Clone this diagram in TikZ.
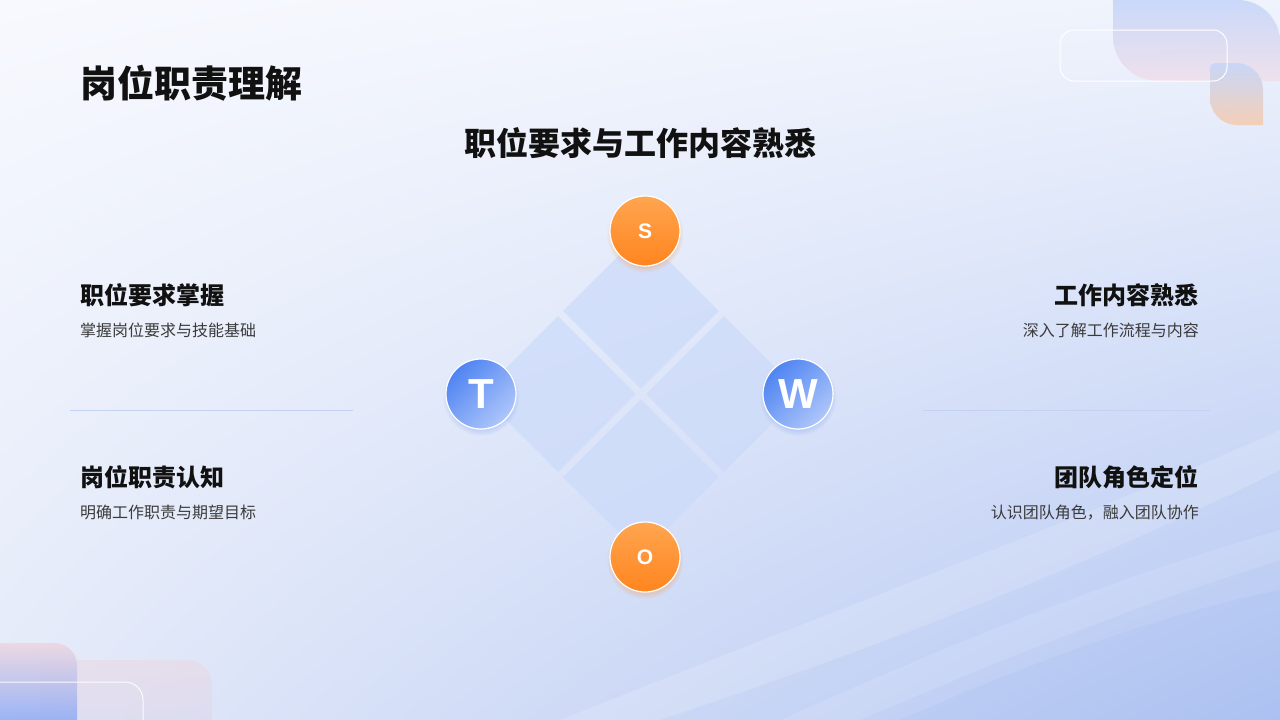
\documentclass[tikz,border=0pt]{standalone}
\usepackage{fontspec}
\setmainfont{Noto Sans CJK SC}
\newfontfamily\letterfont{Liberation Sans}
\usetikzlibrary{positioning,shadows,shadings,calc}
\definecolor{PageTL}{HTML}{F7F9FE}
\definecolor{PageTR}{HTML}{EFF3FC}
\definecolor{PageBL}{HTML}{E4EAF9}
\definecolor{PageBR}{HTML}{B2C5F2}
\definecolor{QuadBlue}{HTML}{CCDBFA}
\definecolor{SepBlue}{HTML}{C3D2F2}
\definecolor{OrangeTop}{HTML}{FFA550}
\definecolor{OrangeBot}{HTML}{FF851F}
\definecolor{BlueDeep}{HTML}{4F84F2}
\definecolor{BlueLight}{HTML}{AEC6FA}
\definecolor{InkDark}{HTML}{111111}
\definecolor{InkGrey}{HTML}{3A3A3A}
\definecolor{LeafBlue}{HTML}{C6D6FA}
\definecolor{LeafPink}{HTML}{F0E0EA}
\definecolor{LeafPeach}{HTML}{F5CCB0}
\definecolor{CornerBlue}{HTML}{8FABF5}
\definecolor{CornerPink}{HTML}{ECD6E0}

\begin{document}
\begin{tikzpicture}[
  x=1pt, y=-1pt,
  every node/.style={inner sep=0pt},
  quadbox/.style={fill=QuadBlue, fill opacity=0.7, minimum size=110pt, rotate=45},
  lettercirc/.style={circle, minimum size=70pt, draw=white, line width=1.2pt, text=white},
  orangecirc/.style={lettercirc, top color=OrangeTop, bottom color=OrangeBot, font=\letterfont\bfseries\fontsize{21}{24}\selectfont,
    circular drop shadow={shadow xshift=0pt, shadow yshift=-3pt, shadow scale=1.1, opacity=0.25, fill=OrangeBot}},
  bluecirc/.style={lettercirc, top color=BlueDeep, bottom color=BlueLight, shading angle=45, font=\letterfont\bfseries\fontsize{42}{46}\selectfont,
    circular drop shadow={shadow xshift=0pt, shadow yshift=-3pt, shadow scale=1.1, opacity=0.2, fill=BlueDeep}},
  headtext/.style={text=InkDark, font=\bfseries\fontsize{24}{28}\selectfont},
  desctext/.style={text=InkGrey, font=\fontsize{16}{19}\selectfont},
  sepline/.style={draw=SepBlue, line width=0.8pt}
]
% background
\shade[upper left=PageTL, upper right=PageTR, lower left=PageBL, lower right=PageBR] (0,0) rectangle (1280,720);
\fill[white, opacity=0.16] (560,720) .. controls (860,600) and (1080,520) .. (1280,430) -- (1280,470) .. controls (1100,560) and (900,640) .. (660,720) -- cycle;
\fill[white, opacity=0.12] (780,720) .. controls (980,630) and (1140,570) .. (1280,530) -- (1280,560) .. controls (1150,600) and (1000,660) .. (860,720) -- cycle;
\fill[BlueDeep, opacity=0.05] (900,720) .. controls (1060,650) and (1180,610) .. (1280,590) -- (1280,720) -- cycle;
\useasboundingbox (0,0) rectangle (1280,720);

% corner decorations
\shade[top color=LeafBlue, bottom color=LeafPink, opacity=0.9] (1113,0) -- (1238,0) .. controls (1261,0) and (1280,19) .. (1280,42) -- (1280,81) -- (1158,81) .. controls (1133,81) and (1113,61) .. (1113,36) -- cycle;
\shade[top color=LeafBlue, bottom color=LeafPeach, opacity=0.9] (1210,68) .. controls (1210,65) and (1212,63) .. (1215,63) -- (1236,63) .. controls (1251,63) and (1263,75) .. (1263,90) -- (1263,125) -- (1237,125) .. controls (1222,125) and (1210,113) .. (1210,98) -- cycle;
\draw[white, line width=1pt, rounded corners=14pt] (1060,30) rectangle (1227,81);
\shade[top color=CornerPink, bottom color=CornerPink!60!LeafBlue, opacity=0.5] (40,720) -- (40,660) -- (187,660) .. controls (201,660) and (212,671) .. (212,685) -- (212,720) -- cycle;
\shade[top color=CornerPink, bottom color=CornerBlue, opacity=0.85] (0,720) -- (0,643) -- (55,643) .. controls (67,643) and (77,653) .. (77,665) -- (77,720) -- cycle;
\draw[white, line width=1pt, opacity=0.9] (0,682) -- (125,682) .. controls (135,682) and (143,690) .. (143,700) -- (143,722);

% titles
\node[anchor=west, text=InkDark, font=\bfseries\fontsize{37}{42}\selectfont] (pagetitle) at (80,83) {岗位职责理解};
\node[text=InkDark, font=\bfseries\fontsize{32}{36}\selectfont] (subtitle) at (640,143) {职位要求与工作内容熟悉};

% diamond
\node[quadbox] (quadTop) at (641,311) {};
\node[quadbox] (quadLeft) at (558,394) {};
\node[quadbox] (quadRight) at (724,394) {};
\node[quadbox] (quadBottom) at (641,477) {};

\node[orangecirc] (swotS) at (645,231) {S};
\node[bluecirc] (swotT) at (481,394) {T};
\node[bluecirc] (swotW) at (798,394) {W};
\node[orangecirc] (swotO) at (645,557) {O};

% left column
\node[headtext, anchor=west] (reqHead) at (80,295) {职位要求掌握};
\node[desctext, below=16pt of reqHead.south west, anchor=north west] (reqDesc) {掌握岗位要求与技能基础};
\node[headtext, anchor=west] (dutyHead) at (80,477) {岗位职责认知};
\node[desctext, below=16pt of dutyHead.south west, anchor=north west] (dutyDesc) {明确工作职责与期望目标};

% right column
\node[headtext, anchor=east] (workHead) at (1199,295) {工作内容熟悉};
\node[desctext, below=16pt of workHead.south east, anchor=north east] (workDesc) {深入了解工作流程与内容};
\node[headtext, anchor=east] (teamHead) at (1199,477) {团队角色定位};
\node[desctext, below=16pt of teamHead.south east, anchor=north east] (teamDesc) {认识团队角色，融入团队协作};

% separators
\coordinate (sepLa) at (70,410);
\coordinate (sepLb) at (353,410);
\coordinate (sepRa) at (923,410);
\coordinate (sepRb) at (1210,410);
\draw[sepline] (sepLa) -- (sepLb);
\draw[sepline] (sepRa) -- (sepRb);
\end{tikzpicture}
\end{document}
